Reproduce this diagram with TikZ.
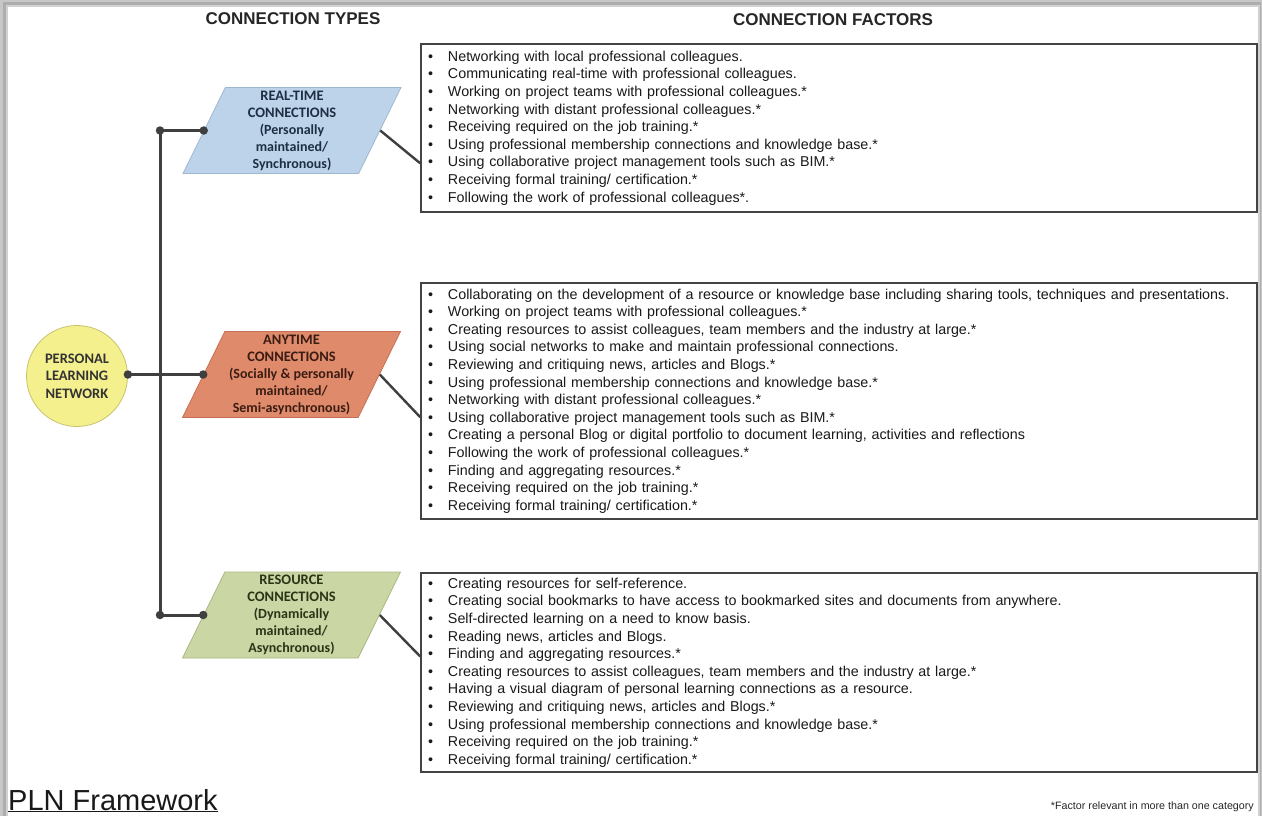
\documentclass[tikz,border=0pt]{standalone}
\usepackage{fontspec}
\setmainfont{Liberation Sans}
\newfontfamily\calibri{Carlito}
\usetikzlibrary{shapes.geometric,calc}

\definecolor{linegray}{HTML}{3F3F3F}
\definecolor{boxline}{HTML}{444444}
\definecolor{rtfill}{HTML}{BDD3EA}
\definecolor{rtdraw}{HTML}{9FB8D2}
\definecolor{rttext}{HTML}{1E2F44}
\definecolor{atfill}{HTML}{E08A6C}
\definecolor{atdraw}{HTML}{C77055}
\definecolor{attext}{HTML}{3A1C12}
\definecolor{rcfill}{HTML}{CAD6A3}
\definecolor{rcdraw}{HTML}{AAB883}
\definecolor{rctext}{HTML}{2C3418}
\definecolor{plnfill}{HTML}{F5F08E}
\definecolor{plndraw}{HTML}{C9C26A}

\newcommand{\itm}[1]{\makebox[20pt][l]{\textbullet}#1}
\newcommand{\subln}{\fontsize{14}{17}\selectfont}

\tikzset{
  ctype/.style={trapezium, trapezium left angle=62, trapezium right angle=118,
    trapezium stretches body, minimum width=218pt, minimum height=86pt,
    inner sep=0pt, align=center, line width=0.8pt,
    font=\calibri\bfseries\fontsize{14.5}{17}\selectfont},
  factors/.style={draw=boxline, line width=1.6pt, fill=white,
    minimum width=836pt, text width=822pt, inner sep=0pt, align=left,
    font=\fontsize{14.3}{17.6}\selectfont, text=black!90},
  header/.style={font=\bfseries\fontsize{17}{20}\selectfont, text=black!85},
  conn/.style={draw=linegray, line width=3pt},
  link/.style={draw=linegray, line width=2.4pt},
  dot/.style={circle, fill=linegray, inner sep=0pt, minimum size=8.5pt}
}

\begin{document}
\begin{tikzpicture}[x=1pt,y=-1pt]
\useasboundingbox (0,0) rectangle (1262,816);

% page frame with soft grey edge
\fill[black!22] (0,0) rectangle (1262,816);
\fill[black!32] (3,2) rectangle (1261,816);
\fill[black!18] (6,5) rectangle (1259.5,816);
\fill[white] (8,7) rectangle (1258,816);

% column headings
\node[header] (hTypes) at (293,19) {CONNECTION TYPES};
\node[header] (hFactors) at (833,20) {CONNECTION FACTORS};

% connection type shapes
\node[ctype, fill=rtfill, draw=rtdraw, text=rttext] (p1) at (292,130.5)
  {REAL-TIME\\CONNECTIONS\\{\subln (Personally}\\{\subln maintained/}\\{\subln Synchronous)}};
\node[ctype, fill=atfill, draw=atdraw, text=attext] (p2) at (291.5,374.5)
  {ANYTIME\\CONNECTIONS\\{\subln (Socially \& personally}\\{\subln maintained/}\\{\subln Semi-asynchronous)}};
\node[ctype, fill=rcfill, draw=rcdraw, text=rctext] (p3) at (291.5,615)
  {RESOURCE\\CONNECTIONS\\{\subln (Dynamically}\\{\subln maintained/}\\{\subln Asynchronous)}};

% central network node
\node[circle, minimum size=101pt, inner sep=0pt, fill=plnfill, draw=plndraw,
  line width=0.8pt, align=center, text=black!80,
  font=\calibri\bfseries\fontsize{14.5}{17.5}\selectfont] (pln) at (77,376)
  {PERSONAL\\LEARNING\\NETWORK};

% factor lists
\node[factors, minimum height=168pt] (b1) at (839,128) {%
\itm{Networking with local professional colleagues.}\\
\itm{Communicating real-time with professional colleagues.}\\
\itm{Working on project teams with professional colleagues.*}\\
\itm{Networking with distant professional colleagues.*}\\
\itm{Receiving required on the job training.*}\\
\itm{Using professional membership connections and knowledge base.*}\\
\itm{Using collaborative project management tools such as BIM.*}\\
\itm{Receiving formal training/ certification.*}\\
\itm{Following the work of professional colleagues*.}};

\node[factors, minimum height=236pt] (b2) at (839,401) {%
\itm{Collaborating on the development of a resource or knowledge base including sharing tools, techniques and presentations.}\\
\itm{Working on project teams with professional colleagues.*}\\
\itm{Creating resources to assist colleagues, team members and the industry at large.*}\\
\itm{Using social networks to make and maintain professional connections.}\\
\itm{Reviewing and critiquing news, articles and Blogs.*}\\
\itm{Using professional membership connections and knowledge base.*}\\
\itm{Networking with distant professional colleagues.*}\\
\itm{Using collaborative project management tools such as BIM.*}\\
\itm{Creating a personal Blog or digital portfolio to document learning, activities and reflections}\\
\itm{Following the work of professional colleagues.*}\\
\itm{Finding and aggregating resources.*}\\
\itm{Receiving required on the job training.*}\\
\itm{Receiving formal training/ certification.*}};

\node[factors, minimum height=199pt] (b3) at (839,672.5) {%
\itm{Creating resources for self-reference.}\\
\itm{Creating social bookmarks to have access to bookmarked sites and documents from anywhere.}\\
\itm{Self-directed learning on a need to know basis.}\\
\itm{Reading news, articles and Blogs.}\\
\itm{Finding and aggregating resources.*}\\
\itm{Creating resources to assist colleagues, team members and the industry at large.*}\\
\itm{Having a visual diagram of personal learning connections as a resource.}\\
\itm{Reviewing and critiquing news, articles and Blogs.*}\\
\itm{Using professional membership connections and knowledge base.*}\\
\itm{Receiving required on the job training.*}\\
\itm{Receiving formal training/ certification.*}};

% branch skeleton on the left
\coordinate (j1) at (160,130.5);
\coordinate (j3) at (160,615);
\draw[conn] (j1) -- (j3);
\draw[conn] (j1) -- (p1.left side);
\draw[conn] (j3) -- (p3.left side);
\draw[link] (pln.east |- p2.left side) -- (p2.left side);
\node[dot] (d1) at (j1) {};
\node[dot] (d2) at (p1.left side) {};
\node[dot] (d3) at (j3) {};
\node[dot] (d4) at (p3.left side) {};
\node[dot] (d5) at (pln.east |- p2.left side) {};
\node[dot] (d6) at (p2.left side) {};

% links from each type to its list
\coordinate (t1) at ($(b1.north west)!0.708!(b1.south west)$);
\coordinate (t2) at ($(b2.north west)!0.568!(b2.south west)$);
\coordinate (t3) at ($(b3.north west)!0.42!(b3.south west)$);
\draw[link] (p1.right side) -- (t1);
\draw[link] (p2.right side) -- (t2);
\draw[link] (p3.right side) -- (t3);

% caption and footnote
\node[anchor=base west, inner sep=0pt, font=\fontsize{29}{33}\selectfont, text=black!90]
  (title) at (8,810) {\underline{PLN Framework}};
\node[anchor=base east, inner sep=0pt, font=\fontsize{10.7}{13}\selectfont, text=black!85]
  (note) at (1254,809) {*Factor relevant in more than one category};
\end{tikzpicture}
\end{document}
